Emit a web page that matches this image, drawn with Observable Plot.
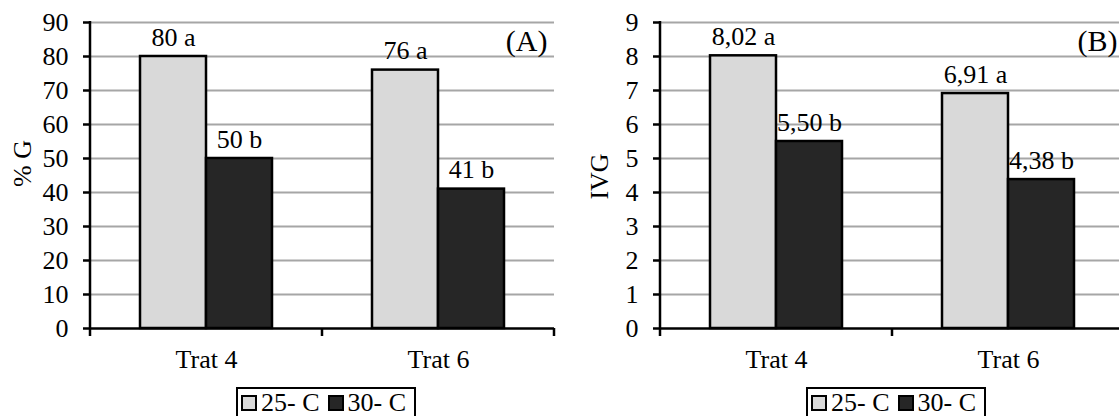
<!DOCTYPE html>
<html><head><meta charset="utf-8">
<script src="https://cdn.jsdelivr.net/npm/d3@7"></script>
<script src="https://cdn.jsdelivr.net/npm/@observablehq/plot@0.6"></script>
<style>
body{margin:0;background:#fff;}
#fig{position:relative;width:1119px;height:416px;overflow:hidden;font-family:"Liberation Serif","Tinos","DejaVu Serif",serif;color:#000;}
.panel{position:absolute;top:0;}
.panel text{font-family:"Liberation Serif","Tinos","DejaVu Serif",serif;}
.legend{position:absolute;top:387px;width:180px;height:29px;border:2px solid #000;border-bottom:none;box-sizing:border-box;font-size:26px;line-height:26px;white-space:nowrap;padding-left:3px;padding-top:1px;}
.sw{display:inline-block;width:12px;height:12px;border:2px solid #000;margin-right:4px;vertical-align:0px;}
</style></head>
<body><div id="fig"></div>
<script>
// ---- data ----
const treatments = ["Trat 4", "Trat 6"];
const temps = ["25- C", "30- C"];
// order: Trat 4 / 25, Trat 4 / 30, Trat 6 / 25, Trat 6 / 30
const germValues = [80, 50, 76, 41];
const germLabels = ["80 a", "50 b", "76 a", "41 b"];
const ivgValues = [8.02, 5.50, 6.91, 4.38];
const ivgLabels = ["8,02 a", "5,50 b", "6,91 a", "4,38 b"];
const germTicks = [0, 10, 20, 30, 40, 50, 60, 70, 80, 90];
const ivgTicks = [0, 1, 2, 3, 4, 5, 6, 7, 8, 9];
const tempColors = ["#d9d9d9", "#262626"];

const fig = document.getElementById("fig");
const serif = "'Liberation Serif', 'Tinos', 'DejaVu Serif', serif";

function panel(values, labels, ticks, yTitle, tag, left, legendLeft, titleDx, titleDy) {
  const rows = values.map((v, i) => ({trat: treatments[Math.floor(i / 2)], temp: temps[i % 2], value: v, label: labels[i]}));
  const yMax = ticks[ticks.length - 1];
  const plot = Plot.plot({
    width: 560, height: 380,
    marginLeft: 90, marginRight: 6, marginTop: 22, marginBottom: 52,
    style: {fontFamily: serif, fontSize: "26px", color: "#000", background: "transparent", overflow: "visible"},
    fx: {domain: treatments, padding: 0, label: null},
    x: {domain: temps, paddingInner: 0, paddingOuter: 0.74, axis: null},
    y: {domain: [0, yMax], label: null},
    color: {domain: temps, range: tempColors},
    marks: [
      Plot.gridY(ticks.filter(t => t > 0), {stroke: "#a6a6a6", strokeOpacity: 1, strokeWidth: 2}),
      Plot.barY(rows, {fx: "trat", x: "temp", y: "value", fill: "temp", stroke: "#000", strokeWidth: 2.5}),
      Plot.ruleY([0], {stroke: "#000", strokeWidth: 2.5}),
      Plot.text(rows, {fx: "trat", x: "temp", y: "value", text: "label", lineAnchor: "bottom", dy: -11, fontSize: 26, fill: "#000"}),
      Plot.axisY(ticks, {tickSize: 7, tickPadding: 15, fontSize: 26, strokeWidth: 2.5, label: null}),
      Plot.axisFx({anchor: "bottom", tickSize: 0, tickPadding: 21, fontSize: 26, label: null}),
      Plot.text([{trat: treatments[0], t: yTitle}], {fx: "trat", text: "t", frameAnchor: "left", textAnchor: "middle", lineAnchor: "middle", rotate: -90, dx: titleDx, dy: titleDy, fontSize: 26, fill: "#000"}),
      Plot.text([{trat: treatments[1], t: tag}], {fx: "trat", text: "t", frameAnchor: "top-right", textAnchor: "end", lineAnchor: "bottom", dx: -7, dy: 28, fontSize: 30, fill: "#000"})
    ]
  });
  plot.classList.add("panel");
  plot.style.left = left + "px";
  // axis line and category boundary ticks, from the plot's own scales
  const fx = plot.scale("fx"), y = plot.scale("y");
  const svg = d3.select(plot);
  const y0 = y.apply(0), yTop = y.apply(yMax);
  const x0 = fx.apply(treatments[0]);
  const g = svg.append("g").attr("stroke", "#000").attr("stroke-width", 2.5);
  g.append("line").attr("x1", x0).attr("x2", x0).attr("y1", yTop - 1).attr("y2", y0 + 8);
  treatments.forEach(t => {
    const xe = fx.apply(t) + fx.bandwidth;
    g.append("line").attr("x1", xe).attr("x2", xe).attr("y1", y0).attr("y2", y0 + 8);
  });
  fig.appendChild(plot);

  const lg = document.createElement("div");
  lg.className = "legend";
  lg.style.left = legendLeft + "px";
  lg.innerHTML = temps.map((t, i) => `<span class="sw" style="background:${tempColors[i]}"></span><span style="margin-right:${i === 0 ? 8 : 0}px">${t}</span>`).join("");
  fig.appendChild(lg);
}

panel(germValues, germLabels, germTicks, "% G", "(A)", 0, 236, -68, -12);
panel(ivgValues, ivgLabels, ivgTicks, "IVG", "(B)", 570, 806, -61, 1);
</script>
</body></html>
